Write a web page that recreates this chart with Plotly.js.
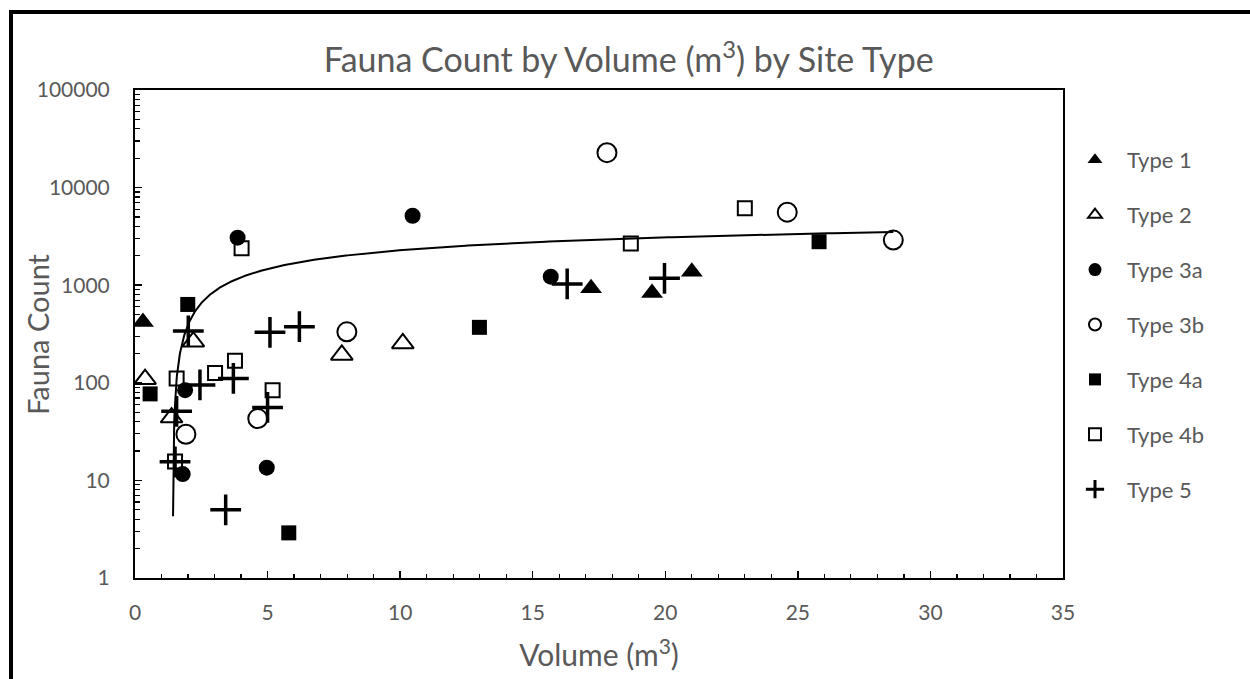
<!DOCTYPE html>
<html>
<head>
<meta charset="utf-8">
<script src="https://cdn.plot.ly/plotly-3.0.1.min.js"></script>
<style>
  html, body { margin: 0; padding: 0; background: #ffffff; overflow: hidden; }
  #chart { position: absolute; left: 0; top: 0; width: 1250px; height: 679px; }
  #frame { position: absolute; left: 9px; top: 10px; width: 1400px; height: 900px;
           border: 4px solid #000; pointer-events: none; box-sizing: border-box; }
</style>
</head>
<body>
<div id="chart"></div>
<div id="frame"></div>
<script>
// ---- data ----
const seriesNames = ["Type 1", "Type 2", "Type 3a", "Type 3b", "Type 4a", "Type 4b", "Type 5"];

const type1X = [0.3, 17.2, 19.5, 21.0];
const type1Y = [420, 930, 830, 1375];

const type2X = [0.38, 1.38, 2.2, 7.8, 10.1];
const type2Y = [109, 44, 264, 193, 253];

const type3aX = [1.89, 1.8, 3.87, 10.47, 4.97, 15.68];
const type3aY = [84, 11.6, 3070, 5150, 13.5, 1222];

const type3bX = [1.92, 4.63, 7.99, 17.8, 24.6, 28.6];
const type3bY = [29.7, 43, 333, 22800, 5600, 2900];

const type4aX = [0.57, 1.99, 5.8, 12.99, 25.8];
const type4aY = [77, 635, 2.9, 370, 2790];

const type4bX = [1.57, 1.51, 3.02, 3.77, 5.19, 4.02, 18.7, 23.0];
const type4bY = [111, 15.6, 126, 168, 84, 2390, 2680, 6140];

const type5X = [1.57, 1.51, 2.01, 2.45, 3.71, 3.42, 5.09, 6.2, 5.0, 16.3, 19.97];
const type5Y = [51, 15.5, 340, 95, 111, 5, 329, 376, 56, 1030, 1176];

// logarithmic trendline y = a*ln(x) + b (coefficients)
const trendA = 1172;
const trendB = -419;
const trendXStart = 1.435;
const trendXEnd = 28.6;

const yTickVals = [1, 10, 100, 1000, 10000, 100000];
const xTickVals = [0, 5, 10, 15, 20, 25, 30, 35];

// ---- styling ----
const FONT = 'Lato, "Open Sans", "DejaVu Sans", sans-serif';
const GREY = '#595959';

const styles = [
  {symbol: 'triangle-up',      size: 19, lw: 0,   ls: 13},
  {symbol: 'triangle-up-open', size: 19, lw: 2,   ls: 12},
  {symbol: 'circle',           size: 16, lw: 0,   ls: 13},
  {symbol: 'circle-open',      size: 19, lw: 2,   ls: 12},
  {symbol: 'square',           size: 15, lw: 0,   ls: 12},
  {symbol: 'square-open',      size: 14, lw: 2,   ls: 12},
  {symbol: 'cross-thin-open',  size: 22, lw: 3.5, ls: 13}
];
const xs = [type1X, type2X, type3aX, type3bX, type4aX, type4bX, type5X];
const ys = [type1Y, type2Y, type3aY, type3bY, type4aY, type4bY, type5Y];

const traces = [];

// trendline samples
const tX = [], tY = [];
const nSteps = 400;
for (let i = 0; i <= nSteps; i++) {
  const x = trendXStart * Math.pow(trendXEnd / trendXStart, i / nSteps);
  const y = trendA * Math.log(x) + trendB;
  if (y > 0) { tX.push(x); tY.push(y); }
}
traces.push({
  x: tX, y: tY, type: 'scatter', mode: 'lines',
  line: {color: '#000', width: 2}, showlegend: false, hoverinfo: 'skip'
});

for (let i = 0; i < seriesNames.length; i++) {
  const s = styles[i];
  traces.push({
    x: xs[i], y: ys[i], type: 'scatter', mode: 'markers', name: seriesNames[i],
    showlegend: false,
    marker: {symbol: s.symbol, size: s.size, color: '#000',
             line: {color: '#000', width: s.lw}}
  });
}
// legend entries (smaller symbols, as in the reference legend)
for (let i = 0; i < seriesNames.length; i++) {
  const s = styles[i];
  traces.push({
    x: [null], y: [null], type: 'scatter', mode: 'markers', name: seriesNames[i],
    legendgroup: 'g' + i, showlegend: true,
    marker: {symbol: s.symbol, size: s.ls, color: '#000',
             line: {color: '#000', width: s.lw === 0 ? 0 : (i === 6 ? 3 : 2)}}
  });
}

const layout = {
  width: 1250, height: 679,
  paper_bgcolor: '#ffffff', plot_bgcolor: '#ffffff',
  margin: {l: 135, r: 187, t: 90, b: 101, pad: 0},
  font: {family: FONT, color: GREY},
  title: {
    text: 'Fauna Count by Volume (m<sup>3</sup>) by Site Type',
    font: {family: FONT, size: 34, color: GREY},
    x: 0.503, xref: 'container', xanchor: 'center',
    y: 1 - 60 / 679, yref: 'container', yanchor: 'middle'
  },
  xaxis: {
    range: [0, 35], tickvals: xTickVals, ticktext: xTickVals.map(String),
    showline: true, linecolor: '#000', linewidth: 2, mirror: true,
    ticks: 'inside', ticklen: 7, tickwidth: 1.5, tickcolor: '#000',
    ticklabelstandoff: 15,
    minor: {dtick: 1, ticks: 'inside', ticklen: 4, tickwidth: 1.2, tickcolor: '#000', showgrid: false},
    showgrid: false, zeroline: false,
    tickfont: {family: FONT, size: 21, color: GREY},
    title: {text: 'Volume (m<sup>3</sup>)', font: {family: FONT, size: 30, color: GREY}, standoff: 22}
  },
  yaxis: {
    type: 'log', range: [0, 5], tickvals: yTickVals, ticktext: yTickVals.map(String),
    showline: true, linecolor: '#000', linewidth: 2, mirror: true,
    ticks: 'inside', ticklen: 7, tickwidth: 1.5, tickcolor: '#000',
    ticklabelstandoff: 19,
    minor: {dtick: 'D1', ticks: 'inside', ticklen: 5, tickwidth: 1.2, tickcolor: '#000', showgrid: false},
    showgrid: false, zeroline: false,
    tickfont: {family: FONT, size: 21, color: GREY}
  },
  annotations: [{
    text: 'Fauna Count', textangle: -90, showarrow: false,
    xref: 'paper', yref: 'paper', x: (37 - 135) / 928, y: 0.5,
    xanchor: 'center', yanchor: 'middle',
    font: {family: FONT, size: 29, color: GREY}
  }],
  legend: {
    x: (1063 - 135) / 928, xanchor: 'left',
    y: 1 - (139 - 90) / 488, yanchor: 'top',
    traceorder: 'grouped', tracegroupgap: 23.3,
    itemwidth: 54,
    font: {family: FONT, size: 22, color: GREY},
    bgcolor: 'rgba(0,0,0,0)', borderwidth: 0
  },
  showlegend: true
};

Plotly.newPlot('chart', traces, layout, {displayModeBar: false, staticPlot: true});
</script>
</body>
</html>
